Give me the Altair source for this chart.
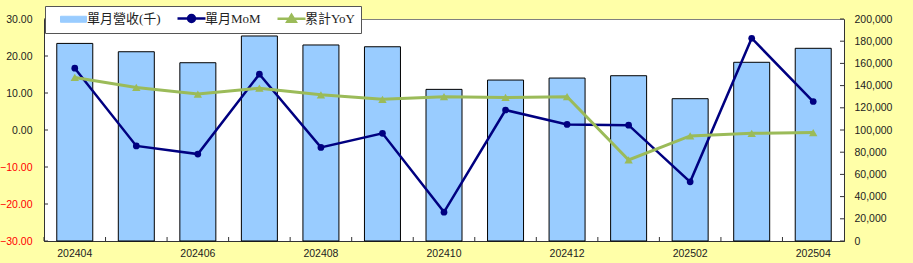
import altair as alt
import pandas as pd

months = ["202404", "202405", "202406", "202407", "202408", "202409", "202410",
          "202411", "202412", "202501", "202502", "202503", "202504"]
revenue = [178000, 170500, 160600, 184700, 176600, 175000, 136600,
           145000, 146800, 148900, 128200, 161000, 173600]
mom = [16.7, -4.3, -6.5, 15.1, -4.7, -0.9, -22.2, 5.4, 1.5, 1.3, -14.0, 24.8, 7.7]
yoy = [14.2, 11.5, 9.7, 11.3, 9.5, 8.3, 9.0, 8.8, 9.0, -8.1, -1.6, -0.9, -0.7]
series_names = ["單月營收(千)", "單月MoM", "累計YoY"]
series_colors = ["#99CCFF", "#000080", "#9BBB59"]
left_ticks = [-30, -20, -10, 0, 10, 20, 30]
right_ticks = [0, 20000, 40000, 60000, 80000, 100000, 120000, 140000, 160000, 180000, 200000]
x_labels = ["202404", "202406", "202408", "202410", "202412", "202502", "202504"]

W, H = 800, 222
AX = "#333333"
FONT = "Liberation Sans"

bars_df = pd.DataFrame({"month": months, "rev": revenue, "series": series_names[0]})
mom_df = pd.DataFrame({"month": months, "val": mom, "series": series_names[1]})
yoy_df = pd.DataFrame({"month": months, "val": yoy, "series": series_names[2]})
lt_df = pd.DataFrame({"tick": left_ticks})
rt_df = pd.DataFrame({"tick": right_ticks})
xt_df = pd.DataFrame({"month": months})

x_scale = alt.Scale(domain=months, paddingInner=0, paddingOuter=0)
x_axis = alt.Axis(values=x_labels, labelAngle=0, ticks=False, tickSize=0, title=None,
                  domainColor=AX, labelFont=FONT, labelFontSize=10.5, labelColor="#222222",
                  labelPadding=7, grid=False)
left_scale = alt.Scale(domain=[-30, 30], nice=False, zero=False)
left_axis = alt.Axis(orient="left", values=left_ticks, format=".2f", ticks=False, tickSize=0,
                     title=None, domainColor=AX, labelFont=FONT, labelFontSize=10.5,
                     labelColor=alt.expr("datum.value < 0 ? '#FF0000' : '#222222'"),
                     labelPadding=12, grid=False)
right_scale = alt.Scale(domain=[0, 200000], nice=False)
right_axis = alt.Axis(orient="right", values=right_ticks, format=",.0f", ticks=False, tickSize=0,
                      title=None, domainColor=AX, labelFont=FONT, labelFontSize=10.5,
                      labelColor="#222222", labelPadding=10, grid=False)

shape_expr = ("datum.value === '單月營收(千)' ? 'M0.3,-0.3H2.9V0.3H0.3Z' : "
              "datum.value === '單月MoM' ? 'M0.2,0H3.0M1.95,0A0.35,0.35 0 1,1 1.25,0A0.35,0.35 0 1,1 1.95,0' : "
              "'M0.2,0H3.0M1.6,-0.38L2.02,0.3H1.18Z'")
fill_expr = ("datum.value === '單月營收(千)' ? '#99CCFF' : "
             "datum.value === '單月MoM' ? '#000080' : '#9BBB59'")
stroke_expr = ("datum.value === '單月營收(千)' ? '#000000' : "
               "datum.value === '單月MoM' ? '#000080' : '#9BBB59'")
sw_expr = "datum.value === '單月營收(千)' ? 1 : 2.5"

legend = alt.Legend(
    orient="none", legendX=1, legendY=-13, direction="horizontal", columns=3,
    title=None, symbolSize=400, labelOffset=23, columnPadding=8, padding=6,
    fillColor="#FFFFFF", strokeColor="#555555", zindex=5,
    labelExpr="datum.value === '累計YoY' ? datum.label + '\u00a0\u00a0\u00a0\u00a0' : datum.label",
    symbolType=alt.expr(shape_expr),
    symbolFillColor=alt.expr(fill_expr),
    symbolStrokeColor=alt.expr(stroke_expr),
    symbolStrokeWidth=alt.expr(sw_expr),
    symbolOpacity=1,
)
color = alt.Color("series:N", scale=alt.Scale(domain=series_names, range=series_colors), legend=legend)

bars = alt.Chart(bars_df).mark_bar(stroke="black", strokeWidth=1, width=alt.RelativeBandSize(0.585)).encode(
    x=alt.X("month:N", scale=x_scale, axis=x_axis),
    y=alt.Y("rev:Q", scale=right_scale, axis=right_axis),
    color=color,
)
right_tick_rules = alt.Chart(rt_df).mark_rule(color=AX, strokeWidth=1).encode(
    y=alt.Y("tick:Q", scale=right_scale, axis=right_axis),
    x=alt.value(W - 4), x2=alt.value(W),
)
right_layer = alt.layer(bars, right_tick_rules)

x_tick_rules = alt.Chart(xt_df).mark_rule(color=AX, strokeWidth=1).encode(
    x=alt.X("month:N", bandPosition=0, scale=x_scale, axis=x_axis),
    y=alt.value(H - 4), y2=alt.value(H),
)
left_tick_rules = alt.Chart(lt_df).mark_rule(color=AX, strokeWidth=1).encode(
    y=alt.Y("tick:Q", scale=left_scale, axis=left_axis),
    x=alt.value(0), x2=alt.value(4),
)
mom_line = alt.Chart(mom_df).mark_line(strokeWidth=2.5, point=alt.OverlayMarkDef(filled=True, size=45)).encode(
    x=alt.X("month:N", scale=x_scale, axis=x_axis),
    y=alt.Y("val:Q", scale=left_scale, axis=left_axis),
    color=color,
)
yoy_line = alt.Chart(yoy_df).mark_line(strokeWidth=3, point=alt.OverlayMarkDef(filled=True, shape="triangle-up", size=70)).encode(
    x=alt.X("month:N", scale=x_scale, axis=x_axis),
    y=alt.Y("val:Q", scale=left_scale, axis=left_axis),
    color=color,
)
left_layer = alt.layer(x_tick_rules, left_tick_rules, mom_line, yoy_line)

chart = alt.layer(right_layer, left_layer).resolve_scale(y="independent").properties(
    width=W, height=H,
    autosize=alt.AutoSizeParams(type="none"),
    padding={"left": 44, "top": 19, "right": 69, "bottom": 22},
    background="#FFFFA8",
).configure_view(stroke="#808080", fill="white").configure_legend(
    labelFont="Liberation Serif, Noto Sans CJK TC", labelFontSize=13, labelColor="#222222",
)

chart.save("out.html", embed_options={"renderer": "svg", "actions": False})
